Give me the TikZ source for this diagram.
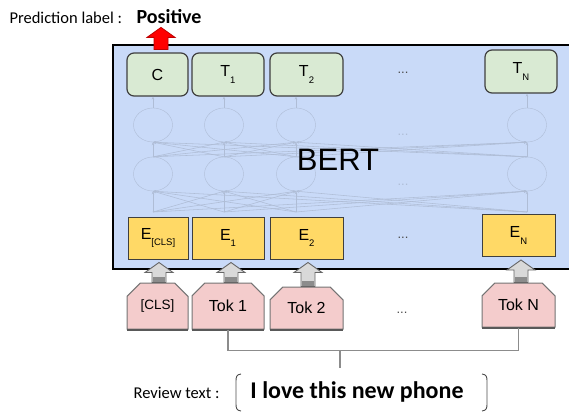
\documentclass[tikz,border=0pt]{standalone}
\usepackage{fontspec}
\setmainfont{Liberation Sans}
\newfontfamily\calibfont{Carlito}
\usetikzlibrary{calc,arrows.meta,shapes.misc,shapes.geometric}

\definecolor{bertbg}{HTML}{C9DAF8}
\definecolor{outgreen}{HTML}{D9EAD3}
\definecolor{embyellow}{HTML}{FFD966}
\definecolor{tokpink}{HTML}{F4CCCC}
\definecolor{netc}{HTML}{AFBDD6}
\definecolor{arrgray}{HTML}{D9D9D9}
\definecolor{boxedge}{HTML}{3F3F3F}

\newcommand\sub[1]{\raisebox{-0.4em}{\fontsize{9.5}{9.5}\selectfont #1}}

% upward block arrow from the north of #1 to just below the south of #2
\newcommand\tokarrow[3]{%
  \path ([xshift=#3]#1.north) coordinate (ab) ([xshift=#3]#1.north |- #2.south) coordinate (at);
  \draw[tokarr] ($(ab)+(-7,0)$) -- ($(at)+(-7,13)$) -- ($(at)+(-14,13)$) -- ($(at)+(0,3)$)
     -- ($(at)+(14,13)$) -- ($(at)+(7,13)$) -- ($(ab)+(7,0)$) -- cycle;
  \fill[black!45] ($(ab)+(-6.4,-0.5)$) rectangle ($(ab)+(6.4,-6)$);
}

\begin{document}
\begin{tikzpicture}[x=1pt,y=-1pt,
  outbox/.style={draw=boxedge, fill=outgreen, rounded corners=7pt, line width=1.2pt,
    minimum height=43pt, inner sep=0pt, font=\fontsize{16}{16}\selectfont},
  embbox/.style={draw=boxedge, fill=embyellow, line width=1pt,
    minimum height=42pt, inner sep=0pt, font=\fontsize{16}{16}\selectfont},
  tokbox/.style={chamfered rectangle, chamfered rectangle corners={north west,north east},
    chamfered rectangle xsep=7pt, chamfered rectangle ysep=7pt,
    draw=black!55, fill=tokpink, line width=1pt, inner sep=0pt,
    font=\fontsize{16}{16}\selectfont},
  tokshade/.style={draw=black!65, line width=2pt},
  neuron/.style={draw=netc, ellipse, minimum width=39pt, minimum height=34pt, inner sep=0pt},
  net/.style={draw=netc, line width=0.55pt},
  netarr/.style={net, -{Stealth[length=3pt,width=2.5pt]}},
  tokarr/.style={draw=black!60, fill=arrgray, line width=0.9pt, line join=miter},
  bracket/.style={draw=black!45, line width=1.1pt},
  frame/.style={draw=black!70, line width=0.9pt},
  dots/.style={font=\fontsize{13}{13}\selectfont, text=black!70}
]
\useasboundingbox (0,0) rectangle (569,412);

% BERT body
\fill[bertbg] (113,45) rectangle (575,269);

% hidden layers
\foreach \x [count=\i] in {153,224,296,527} {
  \node[neuron] (hA\i) at (\x,174) {};
  \node[neuron] (hB\i) at (\x,125) {};
  \coordinate (in\i) at (\x,212);
}
\foreach \i in {1,...,4} \foreach \j in {1,...,4} {
  \draw[netarr] (in\i) -- (hA\j.south);
  \draw[netarr] (hA\i.north) -- (hB\j.south);
}
\node[dots, text=netc] at (403,135) {...};
\node[dots, text=netc] at (403,185) {...};

\node[font=\fontsize{31}{31}\selectfont] (bert) at (338,160) {BERT};

% output row
\node[outbox, minimum width=61pt] (C)  at (157.5,74.5) {C};
\node[outbox, minimum width=72pt] (T1) at (228,74.5) {T\sub{1}};
\node[outbox, minimum width=73pt] (T2) at (306.5,74.5) {T\sub{2}};
\node[outbox, minimum width=72pt] (TN) at (521,71.5) {T\sub{N}};
\node[dots] at (403,73) {...};

\foreach \i/\t in {1/C,2/T1,3/T2,4/TN}
  \draw[netarr] (hB\i.north) -- (hB\i.north |- \t.south);

% embedding row
\node[embbox, minimum width=60pt] (E0) at (158,238) {E\sub{[CLS]}};
\node[embbox, minimum width=72pt] (E1) at (228,238) {E\sub{1}};
\node[embbox, minimum width=73pt] (E2) at (306.5,238) {E\sub{2}};
\node[embbox, minimum width=73pt] (EN) at (518.5,235.5) {E\sub{N}};
\node[dots] at (403,238) {...};

% frame of the model
\draw[line width=2.8pt] (113,45) rectangle (575,269);

% token row
\node[tokbox, minimum width=61pt, minimum height=46pt, font=\fontsize{13.5}{13.5}\selectfont] (K0) at (157.5,306) {[CLS]};
\node[tokbox, minimum width=72pt, minimum height=46pt] (K1) at (228,306) {Tok 1};
\node[tokbox, minimum width=73pt, minimum height=42pt] (K2) at (306.5,308) {Tok 2};
\node[tokbox, minimum width=73pt, minimum height=44pt] (KN) at (518.5,305) {Tok N};
\node[dots] at (402,313) {...};
\foreach \k in {K0,K1,K2,KN}
  \draw[tokshade] ([xshift=0.5pt]\k.south west) -- ([xshift=-0.5pt]\k.south east);

\tokarrow{K0}{E0}{1.5pt}
\tokarrow{K1}{E1}{3pt}
\tokarrow{K2}{E2}{1.5pt}
\tokarrow{KN}{EN}{2.5pt}

% tokens gathered from the review text
\draw[bracket] (K1.south) -- ++(0,21) -| (KN.south);
\coordinate (mid) at (340,350);
\coordinate (tick) at (340,368);
\draw[bracket] (mid) -- (tick);

% review text
\node[font=\calibfont\fontsize{16.5}{16.5}\selectfont, anchor=east] (revlab) at (223,393) {Review text :};
\node[font=\calibfont\bfseries\fontsize{24}{24}\selectfont] (review) at (357,392) {I love this new phone};
\draw[frame] (241,374) .. controls (236.5,374.5) and (236,377) .. (236,381) -- (236,404)
   .. controls (236,408) and (236.5,410.5) .. (241,411);
\draw[frame] (482,374) .. controls (486.5,374.5) and (487,377) .. (487,381) -- (487,404)
   .. controls (487,408) and (486.5,410.5) .. (482,411);

% prediction
\node[font=\calibfont\fontsize{16.5}{16.5}\selectfont, anchor=west] (predlab) at (6,18) {Prediction label :};
\node[font=\calibfont\bfseries\fontsize{20}{20}\selectfont, anchor=west] (pos) at (133,17) {Positive};
\path ([xshift=3.5pt]C.north) coordinate (rb);
\draw[draw=red!75!black, fill=red, line width=0.8pt]
  ($(rb)+(-7,-3)$) -- ($(rb)+(-7,-15)$) -- ($(rb)+(-14,-15)$) -- ($(rb)+(0,-25)$)
  -- ($(rb)+(14,-15)$) -- ($(rb)+(7,-15)$) -- ($(rb)+(7,-3)$) -- cycle;
\end{tikzpicture}
\end{document}
